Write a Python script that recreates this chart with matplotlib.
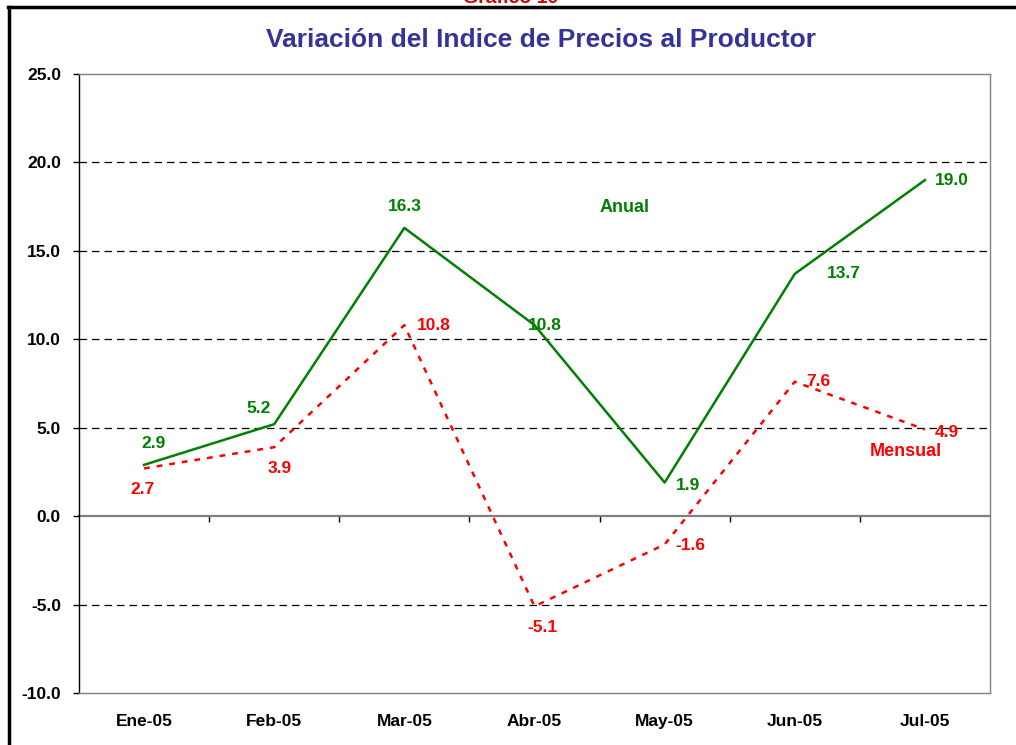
import numpy as np
import matplotlib.pyplot as plt
from matplotlib.lines import Line2D

meses = ['Ene-05', 'Feb-05', 'Mar-05', 'Abr-05', 'May-05', 'Jun-05', 'Jul-05']
anual = [2.9, 5.2, 16.3, 10.8, 1.9, 13.7, 19.0]
mensual = [2.7, 3.9, 10.8, -5.1, -1.6, 7.6, 4.9]

# label offsets in points (dx, dy, ha, va)
off_anual = [(7, 10, 'center', 'bottom'), (-11, 6, 'center', 'bottom'), (0, 10, 'center', 'bottom'),
             (-5, 0, 'left', 'center'), (8, -2, 'left', 'center'), (23, 0, 'left', 'center'),
             (7, 0, 'left', 'center')]
off_mens = [(-1, -10, 'center', 'top'), (4, -10, 'center', 'top'), (9, 0, 'left', 'center'),
            (6, -10, 'center', 'top'), (8, -1, 'left', 'center'), (8, 0, 'left', 'center'),
            (7, -2, 'left', 'center')]

plt.rcParams['font.family'] = ['Liberation Sans', 'DejaVu Sans']
plt.rcParams['font.weight'] = 'bold'

verde = '#008000'
rojo = '#FF0000'
gris = '#808080'

fig = plt.figure(figsize=(10.16, 7.45), dpi=100)
ax = fig.add_axes([79/1016, 1-693/745, 911/1016, 619/745])

x = np.arange(len(meses))
for y in [-5, 5, 10, 15, 20]:
    ax.axhline(y, color='black', lw=0.9, ls=(0, (6, 4)), zorder=1)

ax.plot(x, anual, color=verde, lw=1.8, zorder=3)
ax.plot(x, mensual, color=rojo, lw=1.8, ls=(0, (2.3, 2.8)), zorder=3)

for xi, v, (dx, dy, ha, va) in zip(x, anual, off_anual):
    ax.annotate(f'{v:.1f}', (xi, v), xytext=(dx, dy), textcoords='offset points',
                ha=ha, va=va, color=verde, fontsize=12.5, fontweight='bold')
for xi, v, (dx, dy, ha, va) in zip(x, mensual, off_mens):
    ax.annotate(f'{v:.1f}', (xi, v), xytext=(dx, dy), textcoords='offset points',
                ha=ha, va=va, color=rojo, fontsize=12.5, fontweight='bold')

ax.text(3.69, 17.45, 'Anual', color=verde, fontsize=13, fontweight='bold', ha='center', va='center')
ax.text(5.85, 3.65, 'Mensual', color=rojo, fontsize=13, fontweight='bold', ha='center', va='center')

ax.set_xlim(-0.5, 6.5)
ax.set_ylim(-10, 25)
ax.set_yticks(np.arange(-10, 26, 5))
ax.set_yticklabels([f'{v:.1f}' for v in np.arange(-10, 26, 5)])
ax.set_xticks(x)
ax.set_xticklabels(meses)
ax.tick_params(axis='x', length=0, pad=15, labelsize=12.5)
ax.tick_params(axis='y', length=4, width=1, direction='out', pad=9, labelsize=12.5)
for lab in ax.get_xticklabels() + ax.get_yticklabels():
    lab.set_fontweight('bold')

ax.spines['left'].set_color('black')
ax.spines['left'].set_linewidth(1.0)
for s in ['top', 'right', 'bottom']:
    ax.spines[s].set_color(gris)
    ax.spines[s].set_linewidth(1.0)

# category axis crossing at zero
sec = ax.secondary_xaxis(10/35)
sec.set_xticks(np.arange(0.5, 6.0, 1.0))
sec.set_xticklabels([])
sec.tick_params(axis='x', length=4, width=1, direction='out', colors='black')
sec.spines['bottom'].set_color(gris)
sec.spines['bottom'].set_linewidth(1.6)

fig.text(0.5325, 1-40/745, 'Variación del Indice de Precios al Productor', color='#333399',
         fontsize=19, fontweight='bold', ha='center', va='center')
fig.text(0.503, 1-3/745, 'Gráfico 10', color='#CC0000', fontsize=14, fontweight='bold',
         ha='center', va='baseline')

fig.add_artist(Line2D([9/1016, 9/1016], [0, 1-7/745], transform=fig.transFigure, color='black', lw=2.5))
fig.add_artist(Line2D([8/1016, 1], [1-7/745, 1-7/745], transform=fig.transFigure, color='black', lw=2.5))

fig.savefig('out.png', dpi=100)
